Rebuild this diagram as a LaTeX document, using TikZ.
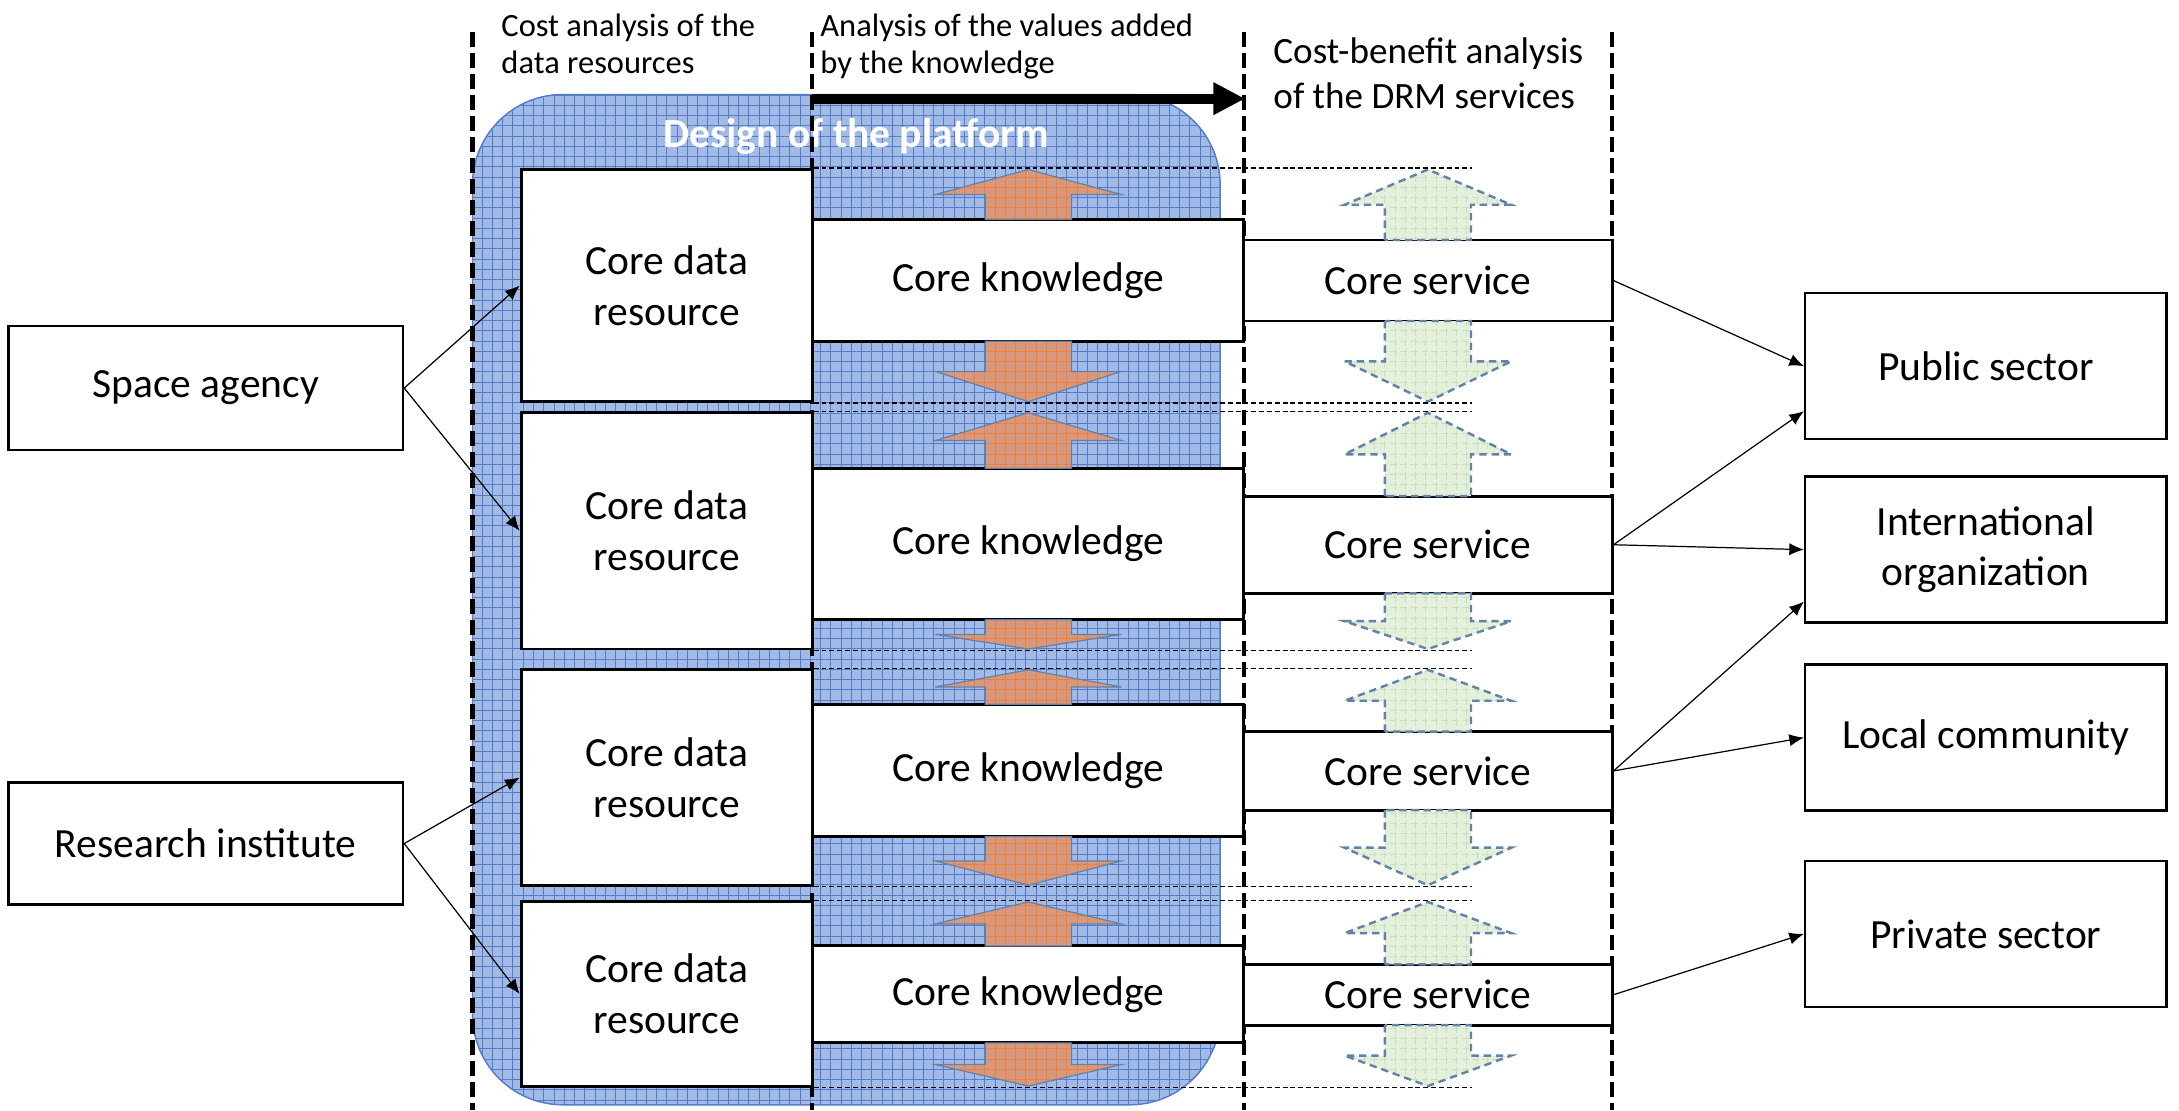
\documentclass[tikz,border=0pt]{standalone}
\usepackage{fontspec}
\setmainfont{Carlito}
\usepackage{tikz}
\usetikzlibrary{arrows.meta, patterns.meta}

\definecolor{platformblue}{RGB}{162,186,230}
\definecolor{platformgrid}{RGB}{84,124,201}
\definecolor{knoworange}{RGB}{216,152,126}
\definecolor{knowgrid}{RGB}{236,128,60}
\definecolor{servgreen}{RGB}{228,240,220}
\definecolor{servgrid}{RGB}{200,224,188}
\definecolor{shapeedge}{RGB}{98,130,170}

\newcommand{\boxtextfont}{\fontsize{17pt}{20.7pt}\selectfont}
\newcommand{\headfont}{\fontsize{13.3pt}{15.4pt}\selectfont}
\newcommand{\bigheadfont}{\fontsize{15.2pt}{18.5pt}\selectfont}

\newcommand{\blockarr}[6]{\draw[#1] ({#2-#6},#3) -- ({#2-#6},{(#3+#4)/2}) -- ({#2-#5},{(#3+#4)/2}) -- (#2,#4) -- ({#2+#5},{(#3+#4)/2}) -- ({#2+#6},{(#3+#4)/2}) -- ({#2+#6},#3) -- cycle;}

\tikzstyle{actor} = [rectangle, draw=black, line width=1pt, fill=white, inner sep=1pt, align=center, font=\boxtextfont, minimum width=56.8mm]
\tikzstyle{resource} = [actor, line width=1.2pt, minimum width=41.9mm]
\tikzstyle{knowledge} = [actor, line width=1.2pt, minimum width=62mm]
\tikzstyle{service} = [actor, line width=1.2pt, minimum width=53mm]
\tikzstyle{user} = [actor, minimum width=52mm, minimum height=21mm]
\tikzstyle{heading} = [inner sep=0pt, align=left, font=\headfont]
\tikzstyle{title} = [inner sep=0pt, text=white, font=\bfseries\boxtextfont]
\tikzstyle{arrow} = [line width=0.5pt, ->, >={Latex[length=6pt,width=5pt]}]
\tikzstyle{flow} = [line width=4pt, -{Triangle[length=13pt,width=12.5pt]}]
\tikzstyle{phase} = [black, line width=1.8pt, dash pattern=on 6pt off 2.6pt]
\tikzstyle{level} = [black, line width=0.6pt, dash pattern=on 2pt off 1.2pt]
\tikzstyle{platform} = [rounded corners=13mm, draw=platformgrid, line width=0.6pt, preaction={fill=platformblue}, pattern={Hatch[angle=0,distance=4.2pt,line width=0.3pt]}, pattern color=platformgrid]
\tikzstyle{knowarrow} = [draw=shapeedge, line width=0.5pt, preaction={fill=knoworange}, pattern={Hatch[angle=0,distance=4.2pt,line width=0.3pt]}, pattern color=knowgrid]
\tikzstyle{servarrow} = [draw=shapeedge, line width=1pt, dash pattern=on 3pt off 2pt, preaction={fill=servgreen}, pattern={Hatch[angle=0,distance=4.2pt,line width=0.3pt]}, pattern color=servgrid]

\begin{document}
\begin{tikzpicture}[x=0.2mm, y=-0.2mm]
		\useasboundingbox (0,0) rectangle (1568,799);
		
		\draw [platform] (340,68) rectangle (878,795);
		\node (design) [title] at (616,98) {Design of the platform};
		
		\draw [phase] (340,23) -- (340,799);
		\draw [phase] (584.5,23) -- (584.5,799);
		\draw [phase] (895,23) -- (895,799);
		\draw [phase] (1160,23) -- (1160,799);
		
		\node (costhead) [heading, anchor=north west] at (360.5,9.5) {Cost analysis of the\\data resources};
		\node (valuehead) [heading, anchor=north west] at (590,9.5) {Analysis of the values added\\by the knowledge};
		\node (benefithead) [heading, font=\bigheadfont, anchor=north west] at (916,27) {Cost-benefit analysis\\of the DRM services};
		
		\coordinate (flowstart) at (584.5,71);
		\coordinate (flowend) at (896,71);
		\draw [flow] (flowstart) -- (flowend);
		
		\node (space) [actor, minimum height=17.9mm] at (148,279.25) {Space agency};
		\node (research) [actor, minimum height=17.6mm] at (148,607) {Research institute};
		
		\node (d1) [resource, minimum height=33.4mm] at (479.75,205.5) {Core data\\resource};
		\node (d2) [resource, minimum height=34mm] at (479.75,382) {Core data\\resource};
		\node (d3) [resource, minimum height=31mm] at (479.75,559.5) {Core data\\resource};
		\node (d4) [resource, minimum height=26.5mm] at (479.75,715.25) {Core data\\resource};
		
		\node (k1) [knowledge, minimum height=17.5mm] at (740,201.75) {Core knowledge};
		\node (k2) [knowledge, minimum height=21.8mm] at (740,391.5) {Core knowledge};
		\node (k3) [knowledge, minimum height=19.06mm] at (740,554.35) {Core knowledge};
		\node (k4) [knowledge, minimum height=13.96mm] at (740,715.6) {Core knowledge};
		
		\node (s1) [service, minimum height=11.66mm] at (1027.5,201.85) {Core service};
		\node (s2) [service, minimum height=14mm] at (1027.5,392) {Core service};
		\node (s3) [service, minimum height=11.3mm] at (1027.5,554.75) {Core service};
		\node (s4) [service, minimum height=8.72mm] at (1027.5,715.8) {Core service};
		
		\node (public) [user] at (1429,263.5) {Public sector};
		\node (intl) [user] at (1429,395.5) {International\\organization};
		\node (local) [user] at (1429,530.75) {Local community};
		\node (private) [user] at (1429,672) {Private sector};
		
		\blockarr{knowarrow}{740}{158}{122}{67}{31}
		\blockarr{knowarrow}{740}{245.5}{289}{67}{31}
		\blockarr{knowarrow}{740}{337}{297}{67}{31}
		\blockarr{knowarrow}{740}{446}{467}{67}{31}
		\blockarr{knowarrow}{740}{506.7}{482}{67}{31}
		\blockarr{knowarrow}{740}{602}{637}{67}{31}
		\blockarr{knowarrow}{740}{680.7}{649}{67}{31}
		\blockarr{knowarrow}{740}{750.5}{781.5}{67}{31}
		
		\blockarr{servarrow}{1027.5}{172.7}{122}{60}{31}
		\blockarr{servarrow}{1027.5}{231}{289}{60}{31}
		\blockarr{servarrow}{1027.5}{357}{297}{60}{31}
		\blockarr{servarrow}{1027.5}{427}{467}{60}{31}
		\blockarr{servarrow}{1027.5}{526.5}{482}{60}{31}
		\blockarr{servarrow}{1027.5}{583}{637}{60}{31}
		\blockarr{servarrow}{1027.5}{694}{649}{60}{31}
		\blockarr{servarrow}{1027.5}{737.6}{781.5}{60}{31}
		
		\draw [level] (d1.north east) -- ++(473.5,0);
		\draw [level] (d1.south east) -- ++(473.5,0);
		\draw [level] (d2.north east) -- ++(473.5,0);
		\draw [level] (d2.south east) -- ++(473.5,0);
		\draw [level] (d3.north east) -- ++(473.5,0);
		\draw [level] (d3.south east) -- ++(473.5,0);
		\draw [level] (d4.north east) -- ++(473.5,0);
		\draw [level] (d4.south east) -- ++(473.5,0);
		
		\draw [arrow] (space.east) -- (d1.west);
		\draw [arrow] (space.east) -- (d2.west);
		\draw [arrow] (research.east) -- (d3.west);
		\draw [arrow] (research.east) -- (d4.west);
		\draw [arrow] (s1.east) -- (public.west);
		\draw [arrow] (s2.east) -- ([yshift=4.2mm]public.south west);
		\draw [arrow] (s2.east) -- (intl.west);
		\draw [arrow] (s3.east) -- ([yshift=3.2mm]intl.south west);
		\draw [arrow] (s3.east) -- (local.west);
		\draw [arrow] (s4.east) -- (private.west);
		
	\end{tikzpicture}
\end{document}
